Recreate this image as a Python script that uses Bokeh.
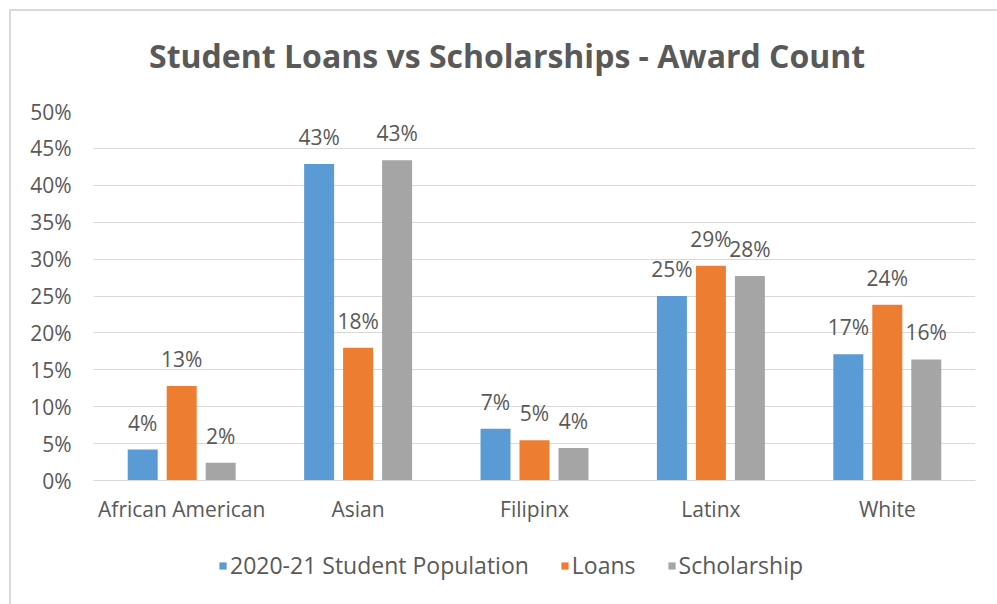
from bokeh.plotting import figure
from bokeh.layouts import column
from bokeh.models import (ColumnDataSource, FactorRange, Range1d, FixedTicker,
                          PrintfTickFormatter, Legend, LegendItem, Label)
from bokeh.transform import dodge
from bokeh.core.properties import value
from bokeh.embed import file_html
from bokeh.resources import INLINE

# ---- data ----
categories = ["African American", "Asian", "Filipinx", "Latinx", "White"]
population = [4.2, 42.9, 7.0, 25.0, 17.1]
loans = [12.8, 18.0, 5.45, 29.1, 23.8]
scholarship = [2.4, 43.4, 4.4, 27.7, 16.4]
series_names = ["2020-21 Student Population", "Loans", "Scholarship"]
y_ticks = [0, 5, 10, 15, 20, 25, 30, 35, 40, 45, 50]
chart_title = "Student Loans vs Scholarships - Award Count"

colors = ["#5B9BD5", "#ED7D31", "#A5A5A5"]
text_color = "#595959"
font = value("Open Sans")

src = ColumnDataSource(dict(
    cat=categories,
    pop=population, loans=loans, sch=scholarship,
    pop_lbl=[f"{v:.0f}%" for v in population],
    loans_lbl=[f"{v:.0f}%" for v in loans],
    sch_lbl=[f"{v:.0f}%" for v in scholarship],
))

# ---- title strip ----
head = figure(width=986, height=80, x_range=Range1d(0, 1), y_range=Range1d(0, 1),
              x_axis_type=None, y_axis_type=None, output_backend="svg",
              toolbar_location=None, min_border=0)
head.outline_line_color = None
head.grid.grid_line_color = None
head.add_layout(Label(x=0.469, y=0.45, text=chart_title, text_align="center",
                      text_baseline="middle", text_font="Open Sans",
                      text_font_style="bold", text_font_size="32px",
                      text_color=text_color))

# ---- main chart ----
p = figure(x_range=FactorRange(*categories, range_padding=0),
           y_range=Range1d(0, 50),
           width=986, height=439,
           output_backend="svg", toolbar_location=None,
           min_border_left=82, min_border_right=22, min_border_top=20,
           min_border_bottom=50)
p.outline_line_color = None

offsets = [-0.221, 0.0, 0.221]
fields = ["pop", "loans", "sch"]
for off, fld, col in zip(offsets, fields, colors):
    p.vbar(x=dodge("cat", off, range=p.x_range), top=fld, width=0.17,
           source=src, fill_color=col, line_color=None)
    p.text(x=dodge("cat", off, range=p.x_range), y=fld, text=fld + "_lbl",
           source=src, y_offset=-27, text_align="center",
           text_baseline="alphabetic", text_font=font, text_font_size="21px",
           text_color=text_color)

p.yaxis.ticker = FixedTicker(ticks=y_ticks)
p.yaxis.formatter = PrintfTickFormatter(format="%d%%")
p.yaxis.axis_line_color = None
p.yaxis.major_tick_line_color = None
p.yaxis.minor_tick_line_color = None
p.yaxis.major_label_standoff = 16
p.yaxis.major_label_text_font = "Open Sans"
p.yaxis.major_label_text_font_size = "21px"
p.yaxis.major_label_text_color = text_color

p.xaxis.axis_line_color = "#D9D9D9"
p.xaxis.major_tick_line_color = None
p.xaxis.minor_tick_line_color = None
p.xaxis.major_label_standoff = 8
p.xaxis.major_label_text_font = "Open Sans"
p.xaxis.major_label_text_font_size = "21px"
p.xaxis.major_label_text_color = text_color

p.xgrid.grid_line_color = None
p.ygrid.grid_line_color = "#D9D9D9"
p.ygrid.grid_line_width = 1

# ---- legend strip (separate figure so the legend is not clipped) ----
# its bars use the real data but lie below the visible y range, so only
# the legend entries show
leg = figure(width=986, height=74, x_range=p.x_range, y_range=Range1d(100, 101),
             x_axis_type=None, y_axis_type=None, output_backend="svg",
             toolbar_location=None, min_border=0)
leg.outline_line_color = None
leg.grid.grid_line_color = None
leg_renderers = [leg.vbar(x=dodge("cat", off, range=p.x_range), top=fld,
                          width=0.17, source=src, fill_color=c, line_color=None)
                 for off, fld, c in zip(offsets, fields, colors)]
legend = Legend(items=[LegendItem(label=n, renderers=[r])
                       for n, r in zip(series_names, leg_renderers)],
                orientation="horizontal", location=(125, 23),
                glyph_width=9, glyph_height=9, label_standoff=3, spacing=31,
                padding=0, margin=0, border_line_color=None,
                background_fill_alpha=0, label_text_font="Open Sans",
                label_text_font_size="23px", label_text_color=text_color)
leg.add_layout(legend, "center")

layout = column(head, p, leg, spacing=0,
                styles={"margin-left": "9px", "margin-top": "9px",
                        "border-top": "2px solid #DADADA",
                        "border-left": "2px solid #DADADA"})
open("out.html", "w").write(file_html(layout, INLINE))
